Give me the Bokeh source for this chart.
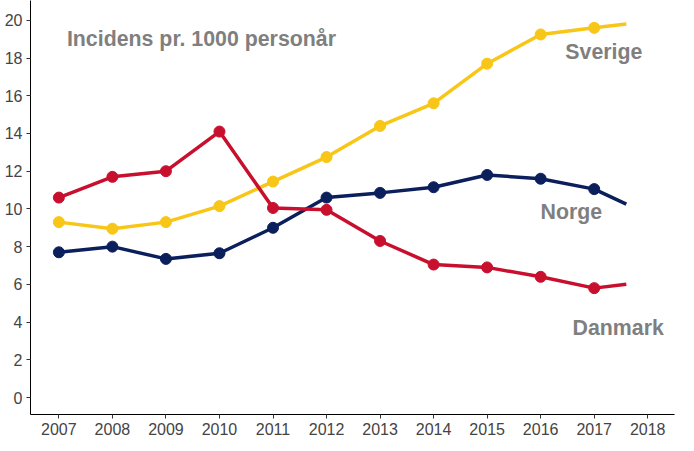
from bokeh.plotting import figure
from bokeh.embed import file_html
from bokeh.resources import INLINE
from bokeh.models import FixedTicker, Range1d
from bokeh.core.properties import value

years = [2007, 2008, 2009, 2010, 2011, 2012, 2013, 2014, 2015, 2016, 2017]
end_x = 2017.6
sverige = [9.3, 8.95, 9.3, 10.15, 11.45, 12.75, 14.4, 15.6, 17.7, 19.25, 19.6]
sverige_end = 19.8
norge = [7.7, 8.0, 7.35, 7.65, 9.0, 10.6, 10.85, 11.15, 11.8, 11.6, 11.05]
norge_end = 10.25
danmark = [10.6, 11.7, 12.0, 14.1, 10.05, 9.95, 8.3, 7.05, 6.9, 6.4, 5.8]
danmark_end = 6.0
x_ticks = list(range(2007, 2019))
y_ticks = list(range(0, 21, 2))

p = figure(width=678, height=437, output_backend="svg", toolbar_location=None,
           x_range=Range1d(2006.47, 2018.5), y_range=Range1d(-0.9, 21.05),
           min_border_left=30, min_border_bottom=20, min_border_top=0, min_border_right=4)
p.xgrid.visible = False
p.ygrid.visible = False
p.outline_line_color = None
for ax in (p.xaxis, p.yaxis):
    ax.major_label_text_font = "Liberation Sans"
    ax.major_label_text_font_size = "12pt"
    ax.major_label_text_color = "#444444"
    ax.axis_line_color = "black"
    ax.major_tick_line_color = "#333333"
    ax.minor_tick_line_color = None
    ax.major_tick_in = 0
    ax.major_tick_out = 4
    ax.major_label_standoff = 4
p.xaxis.ticker = FixedTicker(ticks=x_ticks)
p.yaxis.ticker = FixedTicker(ticks=y_ticks)

series = [(sverige, sverige_end, "#F8C617"), (norge, norge_end, "#0B1F5C"), (danmark, danmark_end, "#C8102E")]
for vals, endv, col in series:
    p.line(years + [end_x], vals + [endv], line_color=col, line_width=3.5)
    p.scatter(years, vals, size=11, color=col)

labels = [("Incidens pr. 1000 personår", 2007.15, 19.0, "left"),
          ("Sverige", 2017.9, 18.3, "right"),
          ("Norge", 2017.15, 9.85, "right"),
          ("Danmark", 2018.3, 3.7, "right")]
for t, x, y, a in labels:
    p.text([x], [y], text=[t], text_font_size="16pt", text_font_style="bold",
           text_color="#7F7F7F", text_align=a, text_baseline="middle",
           text_font=value("Liberation Sans"))

open("out.html", "w").write(file_html(p, INLINE))
